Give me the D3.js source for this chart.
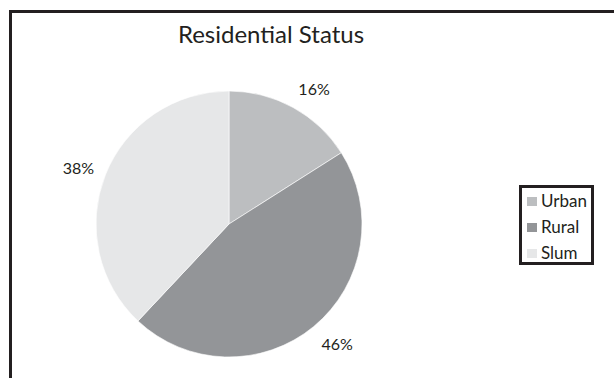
<!DOCTYPE html>
<html>
<head>
<meta charset="utf-8">
<script src="https://cdn.jsdelivr.net/npm/d3@7"></script>
<style>
  html, body { margin: 0; padding: 0; background: #fff; }
  svg { display: block; }
  text { font-family: Lato, "Open Sans", sans-serif; fill: #231f20; }
</style>
</head>
<body>
<svg id="chart" width="614" height="378"></svg>
<script>
// Residential status breakdown (percent of respondents)
const categories = ["Urban", "Rural", "Slum"];
const values = [16, 46, 38];
const colors = ["#bcbec0", "#939598", "#e6e7e8"];
const title = "Residential Status";

const svg = d3.select("#chart");
const W = 614, H = 378;

// outer frame (open on the right and bottom edges)
svg.append("rect")
  .attr("x", 10.5).attr("y", 11.5)
  .attr("width", W + 20).attr("height", H + 20)
  .attr("fill", "none")
  .attr("stroke", "#231f20")
  .attr("stroke-width", 3);

svg.append("text")
  .attr("x", 271).attr("y", 42.5)
  .attr("text-anchor", "middle")
  .style("font-size", "24px")
  .text(title);

const cx = 229, cy = 224, r = 133;
const data = categories.map((c, i) => ({ cat: c, value: values[i], color: colors[i] }));

const pie = d3.pie().sort(null).value(d => d.value);
const arc = d3.arc().innerRadius(0).outerRadius(r);
const arcs = pie(data);

const g = svg.append("g").attr("transform", `translate(${cx},${cy})`);
g.selectAll("path.slice")
  .data(arcs)
  .join("path")
  .attr("class", "slice")
  .attr("d", arc)
  .attr("fill", d => d.data.color)
  .attr("stroke", "#fff")
  .attr("stroke-width", 0.6);

// percentage labels placed just outside the rim on each slice's mid angle
const labelGap = 12;
const clamp = v => Math.max(-1, Math.min(1, v));
g.selectAll("text.pct")
  .data(arcs)
  .join("text")
  .attr("class", "pct")
  .style("font-size", "16px")
  .attr("text-anchor", "middle")
  .attr("dominant-baseline", "central")
  .text(d => d.data.value + "%")
  .each(function(d) {
    const a = (d.startAngle + d.endAngle) / 2;
    const s = Math.sin(a), c = Math.cos(a);
    const bb = this.getBBox();
    const px = (r + labelGap) * s + bb.width / 2 * clamp(2 * s);
    const py = -(r + labelGap) * c - bb.height / 2 * c;
    d3.select(this).attr("x", px).attr("y", py);
  });

// legend
const lg = svg.append("g");
lg.append("rect")
  .attr("x", 520.5).attr("y", 186.5)
  .attr("width", 72).attr("height", 77)
  .attr("fill", "#fff")
  .attr("stroke", "#231f20")
  .attr("stroke-width", 3);

const rowY = d3.scalePoint().domain(categories).range([207, 259]);
const items = lg.selectAll("g.item")
  .data(data)
  .join("g")
  .attr("class", "item")
  .attr("transform", d => `translate(527,${rowY(d.cat)})`);
items.append("rect")
  .attr("x", 0).attr("y", -10)
  .attr("width", 10).attr("height", 9)
  .attr("fill", d => d.color);
items.append("text")
  .attr("x", 14).attr("y", 0)
  .style("font-size", "17px")
  .text(d => d.cat);
</script>
</body>
</html>
